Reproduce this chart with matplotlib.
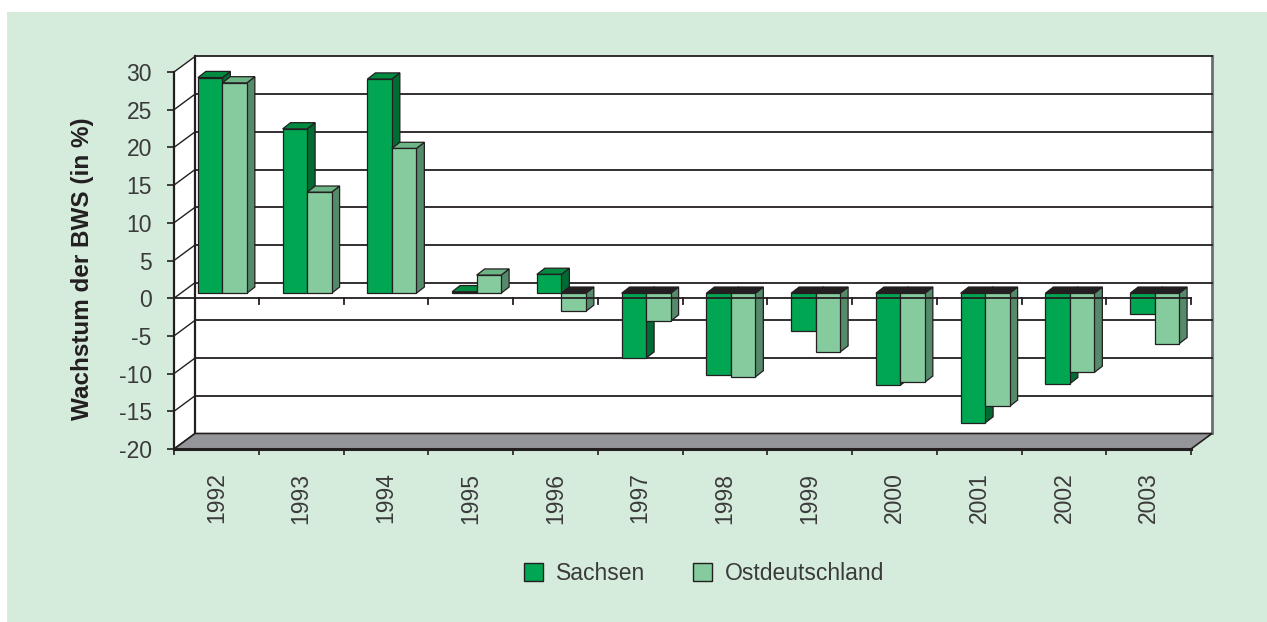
import numpy as np
import matplotlib
matplotlib.use("Agg")
import matplotlib.pyplot as plt
from matplotlib.patches import Polygon, Rectangle, Patch

plt.rcParams['font.family'] = ['Liberation Sans', 'DejaVu Sans']

# data (growth of gross value added, %)
years = ['1992', '1993', '1994', '1995', '1996', '1997',
         '1998', '1999', '2000', '2001', '2002', '2003']
sachsen = [28.6, 21.8, 28.4, 0.2, 2.5, -8.6, -10.9, -5.0, -12.2, -17.2, -12.0, -2.7]
ost = [27.9, 13.4, 19.2, 2.4, -2.4, -3.7, -11.1, -7.8, -11.8, -15.0, -10.5, -6.7]
yticks = list(range(-20, 35, 5))

# colours: front, top, side
c_sa = ('#00a651', '#008b40', '#006b33')
c_os = ('#85cb9e', '#6db487', '#558a6a')
c_neg_top = '#231f20'
edge = '#231f20'
txt = '#3a3a3a'
bg = '#d5ecdd'

# oblique depth of the box (in data units)
DX, DY = 0.248, 2.06
# bar position in depth and bar depth
OX, OY = 0.071, 0.66
BDX, BDY = 0.094, 0.82
W = 0.289

fig = plt.figure(figsize=(12.67, 6.22), dpi=100)
fig.patch.set_facecolor('white')
fig.patches.append(Rectangle((7 / 1267, 0), 1, 1 - 12 / 622, transform=fig.transFigure,
                             facecolor=bg, edgecolor='none', zorder=-10))

ax = fig.add_axes([174 / 1267, 1 - 449 / 622, 1017 / 1267, 377 / 622])
ax.set_xlim(0, 12)
ax.set_ylim(-20, 30)
ax.patch.set_visible(False)
n = len(years)
ymin, ymax = yticks[0], yticks[-1]

def poly(pts, fc, z, lw=0.9, ec=edge):
    ax.add_patch(Polygon(pts, closed=True, facecolor=fc, edgecolor=ec,
                         linewidth=lw, zorder=z, clip_on=False, joinstyle='miter'))

# back wall and side wall
poly([(DX, ymin + DY), (n + DX, ymin + DY), (n + DX, ymax + DY), (DX, ymax + DY)], 'white', 1, lw=0)
poly([(0, ymin), (0, ymax), (DX, ymax + DY), (DX, ymin + DY)], 'white', 1, lw=0)
ax.plot([n + DX, n + DX], [ymin + DY, ymax + DY], color='#6d6e71', lw=2, zorder=2, clip_on=False)
ax.plot([DX, DX], [ymin + DY, ymax + DY], color=edge, lw=1.6, zorder=2, clip_on=False)

# gridlines on back wall + diagonals on the side
for v in yticks:
    if v > ymin:
        ax.plot([DX, n + DX], [v + DY, v + DY], color=edge, lw=1.3, zorder=2, clip_on=False)
    ax.plot([0, DX], [v, v + DY], color=edge, lw=1.0, zorder=2, clip_on=False)

# floor
poly([(0, ymin), (n, ymin), (n + DX, ymin + DY), (DX, ymin + DY)], '#939598', 3, lw=1.2)
ax.plot([0, n], [ymin, ymin], color=edge, lw=2.2, zorder=3.5, clip_on=False)

def bar(x0, v, cols, z):
    x0 = x0 + OX
    x1 = x0 + W
    top, bot = max(v, 0) + OY, min(v, 0) + OY
    front, topc, side = cols
    if v < 0:
        topc = c_neg_top
    poly([(x1, bot), (x1, top), (x1 + BDX, top + BDY), (x1 + BDX, bot + BDY)], side, z)
    poly([(x0, top), (x1, top), (x1 + BDX, top + BDY), (x0 + BDX, top + BDY)], topc, z)
    poly([(x0, bot), (x1, bot), (x1, top), (x0, top)], front, z)

for i in range(n):
    c = i + 0.5
    bar(c - W, sachsen[i], c_sa, 4 + i * 0.01)
    bar(c, ost[i], c_os, 4.005 + i * 0.01)

# front zero line with ticks
ax.plot([0, n], [0, 0], color=edge, lw=1.3, zorder=6, clip_on=False)
tick_len = 6 / 7.52
for i in range(1, n + 1):
    ax.plot([i, i], [0, -tick_len], color=edge, lw=1.3, zorder=6, clip_on=False)

# axes: left spine and floor ticks
for s in ['top', 'right', 'bottom']:
    ax.spines[s].set_visible(False)
ax.spines['left'].set_color(edge)
ax.spines['left'].set_linewidth(1.6)
ax.spines['left'].set_zorder(6)
ax.set_yticks(yticks)
ax.set_yticklabels([str(v) for v in yticks])
ax.tick_params(axis='y', direction='out', length=5, width=1.2, color=edge,
               labelsize=16.5, labelcolor=txt, pad=11)
ax.set_xticks(np.arange(n) + 0.5)
ax.set_xticklabels(years, rotation=90, va='top', ha='center')
ax.set_xticks(np.arange(n + 1), minor=True)
ax.tick_params(axis='x', which='major', length=0, labelsize=16.5, labelcolor=txt, pad=17)
ax.tick_params(axis='x', which='minor', direction='out', length=4.5, width=1.2, color=edge)

fig.text(83 / 1267, 1 - 268.5 / 622, 'Wachstum der BWS (in %)', rotation=90,
         ha='center', va='center', fontsize=17.5, fontweight='bold', color='#231f20')

handles = [Patch(facecolor=c_sa[0], edgecolor=edge, linewidth=1.0, label='Sachsen'),
           Patch(facecolor=c_os[0], edgecolor=edge, linewidth=1.0, label='Ostdeutschland')]
leg = fig.legend(handles=handles, loc='center', bbox_to_anchor=(704 / 1267, 1 - 573 / 622),
                 ncol=2, frameon=False, fontsize=16.5, handlelength=0.83, handleheight=0.83,
                 handletextpad=0.54, columnspacing=2.1, borderaxespad=0)
for t in leg.get_texts():
    t.set_color(txt)

fig.savefig('out.png', dpi=100, facecolor=fig.get_facecolor())
